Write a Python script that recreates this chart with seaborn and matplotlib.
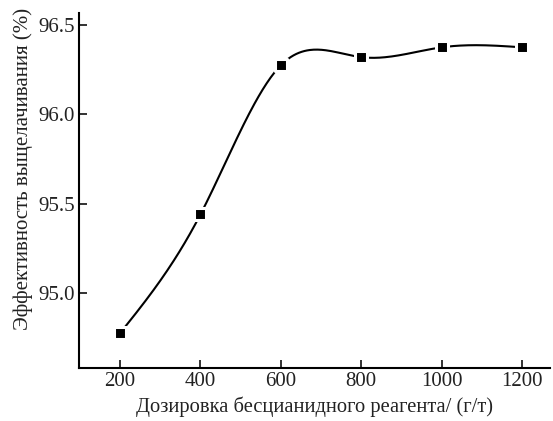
import numpy as np
import pandas as pd
import matplotlib
matplotlib.use("Agg")
import matplotlib.pyplot as plt
import seaborn as sns

dosage = [200, 400, 600, 800, 1000, 1200]
efficiency = [94.775, 95.44, 96.275, 96.32, 96.375, 96.375]
xticks = [200, 400, 600, 800, 1000, 1200]
yticks = [95.0, 95.5, 96.0, 96.5]


def natural_spline(x, y, n=300):
    x = np.asarray(x, float)
    y = np.asarray(y, float)
    k = len(x)
    h = np.diff(x)
    A = np.zeros((k, k))
    b = np.zeros(k)
    A[0, 0] = A[-1, -1] = 1
    for i in range(1, k - 1):
        A[i, i - 1] = h[i - 1]
        A[i, i] = 2 * (h[i - 1] + h[i])
        A[i, i + 1] = h[i]
        b[i] = 6 * ((y[i + 1] - y[i]) / h[i] - (y[i] - y[i - 1]) / h[i - 1])
    m = np.linalg.solve(A, b)
    xs = np.linspace(x[0], x[-1], n)
    idx = np.clip(np.searchsorted(x, xs) - 1, 0, k - 2)
    t0 = x[idx + 1] - xs
    t1 = xs - x[idx]
    hi = h[idx]
    ys = (m[idx] * t0 ** 3 + m[idx + 1] * t1 ** 3) / (6 * hi) \
        + (y[idx] / hi - m[idx] * hi / 6) * t0 \
        + (y[idx + 1] / hi - m[idx + 1] * hi / 6) * t1
    return xs, ys


sns.set_theme(style="ticks")
plt.rcParams['font.family'] = ['Liberation Serif', 'DejaVu Serif']

fig = plt.figure(figsize=(5.53, 4.21), dpi=100)
ax = fig.add_axes([0.143, 0.126, 0.852, 0.843])

xs, ys = natural_spline(dosage, efficiency)
curve = pd.DataFrame({"x": xs, "y": ys})
pts = pd.DataFrame({"x": dosage, "y": efficiency})

sns.lineplot(data=curve, x="x", y="y", ax=ax, color="black", linewidth=1.5)
sns.scatterplot(data=pts, x="x", y="y", ax=ax, marker="s", s=75, color="black",
                edgecolor="white", linewidth=2.2, zorder=3)

ax.set_xlim(98, 1270)
ax.set_ylim(94.58, 96.567)
ax.set_xticks(xticks)
ax.set_yticks(yticks)
ax.set_yticklabels([f"{v:.1f}" for v in yticks])
ax.tick_params(direction="in", length=6, width=1.3, labelsize=15, colors="#222222", pad=3)
for side in ["left", "bottom"]:
    ax.spines[side].set_linewidth(1.5)
    ax.spines[side].set_color("black")
sns.despine(ax=ax)

ax.set_xlabel("Дозировка бесцианидного реагента/ (г/т)", fontsize=14.8, labelpad=4, color="#222222")
ax.set_ylabel("Эффективность выщелачивания (%)", fontsize=15, color="#222222")
ax.yaxis.set_label_coords(-0.098, 0.56)

fig.savefig("out.png", dpi=100)
